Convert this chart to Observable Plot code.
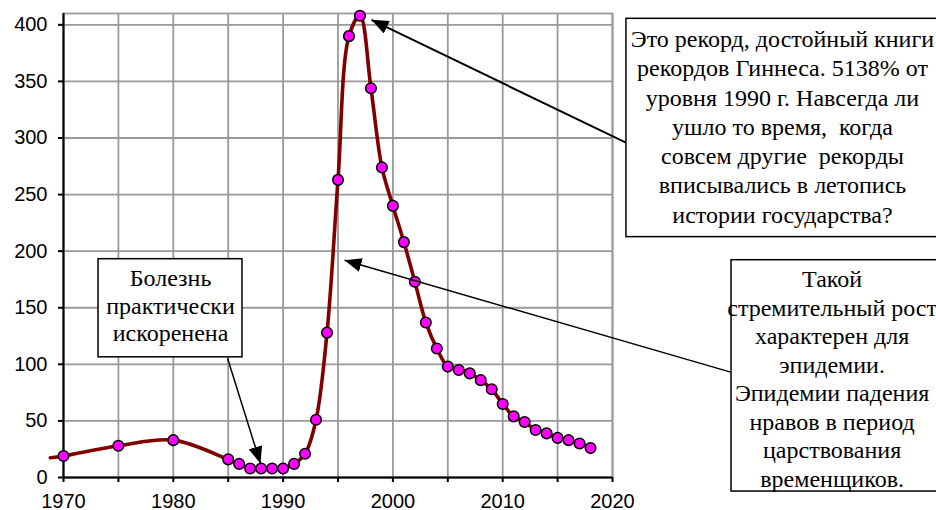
<!DOCTYPE html>
<html>
<head>
<meta charset="utf-8">
<script src="https://cdn.jsdelivr.net/npm/d3@7"></script>
<script src="https://cdn.jsdelivr.net/npm/@observablehq/plot@0.6"></script>
<style>
  html, body { margin: 0; padding: 0; background: white; overflow: hidden; }
  svg text { white-space: pre; }
</style>
</head>
<body>
<div id="chart"></div>
<script>
// ---- data ----
const years  = [1970, 1975, 1980, 1985, 1986, 1987, 1988, 1989, 1990, 1991, 1992, 1993, 1994, 1995, 1996, 1997, 1998, 1999, 2000, 2001, 2002, 2003, 2004, 2005, 2006, 2007, 2008, 2009, 2010, 2011, 2012, 2013, 2014, 2015, 2016, 2017, 2018];
const values = [19, 28, 33, 16, 12, 8, 8, 8, 8, 12, 21, 51, 128, 263, 390, 408, 344, 274, 240, 208, 173, 137, 114, 98, 95, 92, 86, 78, 65, 54, 49, 42, 39, 35, 33, 30, 26];
// line lead-in (line only, no marker)
const leadYear = 1968.8;
const leadValue = 17.4;

const xTicks = [1970, 1975, 1980, 1985, 1990, 1995, 2000, 2005, 2010, 2015, 2020];
const yTicks = [0, 50, 100, 150, 200, 250, 300, 350, 400];

// ---- annotations (data units) ----
const box1Lines = ["Болезнь", "практически", "искоренена"];
const box2Lines = ["Это рекорд, достойный книги", "рекордов Гиннеса. 5138% от", "уровня 1990 г. Навсегда ли", "ушло то время,  когда", "совсем другие  рекорды", "вписывались в летопись", "истории государства?"];
const box3Lines = ["Такой", "стремительный рост", "характерен для", "эпидемии.", "Эпидемии падения", "нравов в период", "царствования", "временщиков."];

const boxes = [
  {x1: 1973.19, x2: 1986.3, y1: 106.2, y2: 192.9},
  {x1: 2021.27, x2: 2049.9, y1: 212.4, y2: 405.3},
  {x1: 2030.84, x2: 2049.9, y1: -12.4, y2: 192.0}
];
const labels = [
  {x: 1979.75, y: 152.5, text: box1Lines.join("\n"), lh: 1.15},
  {x: 2035.48, y: 311.0, text: box2Lines.join("\n"), lh: 1.22},
  {x: 2040.0,  y: 88.0,  text: box3Lines.join("\n"), lh: 1.185}
];
const arrows = [
  {x1: 1984.94, y1: 105.3, x2: 1987.94, y2: 12.4, w: 1.5},
  {x1: 2021.27, y1: 295.6, x2: 1998.05, y2: 404.4, w: 2},
  {x1: 2030.84, y1: 92.9,  x2: 1995.6,  y2: 192.0, w: 1.5}
];

const points = years.map((y, i) => ({year: y, value: values[i]}));
const linePts = [{year: leadYear, value: leadValue}, ...points];

const serif = "'Liberation Serif', 'Times New Roman', serif";
const textOpts = (l) => ({x: "x", y: "y", text: "text", lineHeight: l.lh, fontFamily: serif, fontSize: 24, fill: "black", textAnchor: "middle", lineAnchor: "middle"});

const chart = Plot.plot({
  width: 936,
  height: 510,
  marginLeft: 63,
  marginRight: 324,
  marginTop: 13,
  marginBottom: 33,
  style: {fontFamily: "'Liberation Sans', Arial, sans-serif", fontSize: "20px", color: "black", background: "white", overflow: "visible"},
  x: {domain: [1970, 2020]},
  y: {domain: [0, 410]},
  marks: [
    Plot.gridX(xTicks, {stroke: "#999", strokeOpacity: 1, strokeWidth: 1.8}),
    Plot.gridY(yTicks, {stroke: "#999", strokeOpacity: 1, strokeWidth: 1.8}),
    Plot.frame({stroke: "#999", strokeWidth: 1.8}),
    Plot.ruleX([1970], {stroke: "black", strokeWidth: 2}),
    Plot.ruleY([0], {stroke: "black", strokeWidth: 2}),
    Plot.axisX(xTicks, {tickFormat: d => d % 10 === 0 ? String(d) : "", tickSize: 5, tickPadding: 11, fontSize: 20, stroke: "black", strokeWidth: 2, label: null}),
    Plot.axisY(yTicks, {tickFormat: d => String(d), tickSize: 5, tickPadding: 11, fontSize: 20, stroke: "black", strokeWidth: 2, label: null}),
    Plot.line(linePts, {x: "year", y: "value", curve: "catmull-rom", stroke: "#800000", strokeWidth: 3.6}),
    Plot.dot(points, {x: "year", y: "value", r: 5.3, fill: "#ff00ff", stroke: "black", strokeWidth: 1.5}),
    Plot.link(arrows, {x1: "x1", y1: "y1", x2: "x2", y2: "y2", stroke: "black", strokeWidth: "w"}),
    Plot.rect(boxes, {x1: "x1", x2: "x2", y1: "y1", y2: "y2", fill: "white", stroke: "black", strokeWidth: 1.5}),
    Plot.text([labels[0]], textOpts(labels[0])),
    Plot.text([labels[1]], textOpts(labels[1])),
    Plot.text([labels[2]], textOpts(labels[2]))
  ]
});

// filled arrowheads for the annotation links
const svg = d3.select(chart);
svg.append("defs").append("marker")
  .attr("id", "ahead")
  .attr("markerUnits", "userSpaceOnUse")
  .attr("markerWidth", 17).attr("markerHeight", 14)
  .attr("refX", 17).attr("refY", 7)
  .attr("orient", "auto")
  .append("path").attr("d", "M0,0L17,7L0,14Z").attr("fill", "black");
svg.selectAll('g[aria-label="link"] path').attr("marker-end", "url(#ahead)");

document.getElementById("chart").appendChild(chart);
</script>
</body>
</html>
